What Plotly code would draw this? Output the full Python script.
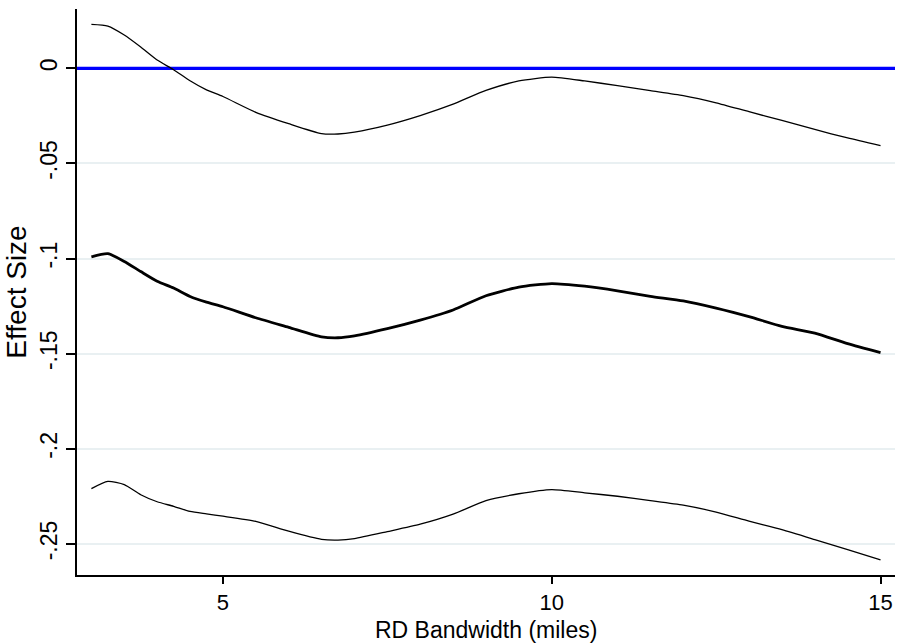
import plotly.graph_objects as go

bandwidth = [3, 3.25, 3.5, 3.75, 4, 4.25, 4.5, 4.75, 5, 5.5, 6, 6.5, 6.75, 7, 7.5,
             8, 8.5, 9, 9.5, 10, 10.5, 11, 11.5, 12, 12.5, 13, 13.5, 14, 14.5, 15]

upper_ci = [0.0231, 0.0222, 0.0175, 0.0112, 0.0044, -0.0007, -0.0065, -0.0113, -0.0148,
            -0.0231, -0.0291, -0.0343, -0.0345, -0.0335, -0.0298, -0.0248, -0.0188,
            -0.0116, -0.0066, -0.0046, -0.0066, -0.0091, -0.0117, -0.0143, -0.0181,
            -0.0228, -0.0274, -0.0321, -0.0366, -0.0406]

estimate = [-0.0991, -0.0974, -0.1015, -0.1068, -0.1119, -0.1155, -0.1199, -0.1229, -0.1253,
            -0.1311, -0.1361, -0.1411, -0.1416, -0.1406, -0.1368, -0.1323, -0.1270,
            -0.1195, -0.1150, -0.1131, -0.1145, -0.1169, -0.1198, -0.1222, -0.1260,
            -0.1305, -0.1356, -0.1392, -0.1447, -0.1494]

lower_ci = [-0.2209, -0.2171, -0.2188, -0.2241, -0.2278, -0.2302, -0.2329, -0.2342, -0.2354,
            -0.2381, -0.2433, -0.2476, -0.2480, -0.2472, -0.2435, -0.2396, -0.2343,
            -0.2272, -0.2236, -0.2214, -0.2231, -0.2249, -0.2272, -0.2296, -0.2332,
            -0.2380, -0.2425, -0.2477, -0.2530, -0.2583]

y_ticks = [0, -0.05, -0.1, -0.15, -0.2, -0.25]
y_tick_labels = ["0", "-.05", "-.1", "-.15", "-.2", "-.25"]
x_ticks = [5, 10, 15]
x_tick_labels = ["5", "10", "15"]
x_range = [2.781, 15.22]
y_range = [-0.2663, 0.0312]
reference_y = 0

FONT = "Liberation Sans, Arial, sans-serif"

fig = go.Figure()
# horizontal reference line at zero, spanning the full x range
fig.add_trace(go.Scatter(x=x_range, y=[reference_y, reference_y], mode="lines",
                         line=dict(color="#0000ff", width=3.2), hoverinfo="skip"))
fig.add_trace(go.Scatter(x=bandwidth, y=upper_ci, mode="lines",
                         line=dict(color="black", width=1.3, shape="spline", smoothing=0.6)))
fig.add_trace(go.Scatter(x=bandwidth, y=estimate, mode="lines",
                         line=dict(color="black", width=2.8, shape="spline", smoothing=0.6)))
fig.add_trace(go.Scatter(x=bandwidth, y=lower_ci, mode="lines",
                         line=dict(color="black", width=1.3, shape="spline", smoothing=0.6)))

fig.update_layout(
    width=898, height=643,
    margin=dict(l=77, r=3, t=9, b=68),
    paper_bgcolor="white", plot_bgcolor="white",
    showlegend=False,
    font=dict(family=FONT, size=22, color="black"),
    xaxis=dict(
        range=x_range, tickvals=x_ticks, ticktext=x_tick_labels,
        showgrid=False, zeroline=False,
        showline=True, linecolor="black", linewidth=1.5,
        ticks="outside", ticklen=7, tickwidth=1.5, tickcolor="black",
        tickfont=dict(size=22),
    ),
    yaxis=dict(
        range=y_range, tickvals=y_ticks, ticktext=y_tick_labels,
        tickangle=-90,
        showgrid=True, gridcolor="#e9f0f2", gridwidth=1.5, zeroline=False,
        showline=True, linecolor="black", linewidth=1.5,
        ticks="outside", ticklen=9, tickwidth=1.5, tickcolor="black",
        tickfont=dict(size=23),
        title=dict(text="Effect Size", font=dict(size=28), standoff=1),
    ),
    annotations=[dict(text="RD Bandwidth (miles)", xref="paper", yref="paper",
                      x=0.5, y=-0.0975, xanchor="center", yanchor="middle",
                      showarrow=False, font=dict(size=23))],
)

fig.write_html("out.html")
